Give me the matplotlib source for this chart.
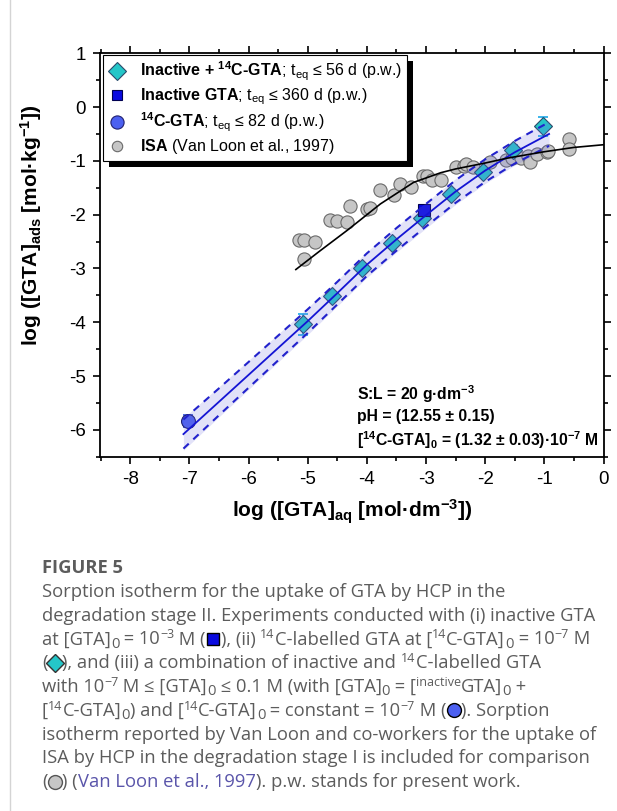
import numpy as np
import matplotlib
matplotlib.use("Agg")
import matplotlib.pyplot as plt
from matplotlib.lines import Line2D
from matplotlib.patches import Rectangle
from matplotlib.font_manager import FontProperties
from matplotlib.ticker import MultipleLocator

# --- data (log units) ---
# inactive + 14C-GTA (diamonds)
mix_x = [-5.08, -4.59, -4.09, -3.58, -3.07, -2.57, -2.04, -1.53, -1.02]
mix_y = [-4.04, -3.52, -2.99, -2.52, -2.07, -1.61, -1.20, -0.80, -0.36]
mix_err = [0.20, 0.05, 0.05, 0.05, 0.05, 0.05, 0.05, 0.09, 0.17]

# inactive GTA (square)
inact_x = [-3.04]
inact_y = [-1.92]

# 14C-GTA only (circle)
c14_x = [-7.03]
c14_y = [-5.84]
c14_err = [0.11]

# ISA, Van Loon et al. 1997 (grey circles)
isa_x = [-5.15, -5.07, -4.87, -5.07, -4.63, -4.51, -4.33, -4.29, -4.00, -3.94,
         -3.77, -3.54, -3.44, -3.26, -3.05, -2.98, -2.90, -2.75, -2.50, -2.36,
         -2.33, -2.20, -1.91, -1.65, -1.54, -1.40, -1.28, -1.24, -1.12, -0.96,
         -0.94, -0.58, -0.58]
isa_y = [-2.48, -2.47, -2.51, -2.82, -2.09, -2.11, -2.14, -1.83, -1.89, -1.87,
         -1.54, -1.63, -1.43, -1.49, -1.29, -1.28, -1.36, -1.36, -1.12, -1.09,
         -1.06, -1.11, -1.03, -0.99, -0.95, -0.95, -0.91, -1.03, -0.87, -0.84,
         -0.81, -0.60, -0.77]

# ISA model curve
isa_fit_x = [-5.2, -4.8, -4.33, -3.77, -3.21, -2.75, -2.5, -2.0, -1.63, -1.0, -0.5, 0.0]
isa_fit_y = [-3.02, -2.68, -2.29, -1.80, -1.40, -1.22, -1.15, -1.04, -0.95, -0.83, -0.75, -0.70]

# GTA model curve and its uncertainty band (half width)
fit_x = [-7.1, -6.5, -6.0, -5.5, -5.0, -4.5, -4.0, -3.5, -3.0, -2.5, -2.0, -1.5, -0.92]
fit_y = [-6.08, -5.48, -4.98, -4.48, -3.98, -3.46, -2.93, -2.46, -2.01, -1.57, -1.18, -0.84, -0.50]
fit_band = [0.27, 0.25, 0.24, 0.23, 0.22, 0.21, 0.21, 0.21, 0.21, 0.21, 0.21, 0.21, 0.22]

legend_labels = [
    r"$\mathbf{Inactive\ {+}\ ^{14}C‐GTA}$; t$_{\mathrm{eq}}$ ≤ 56 d (p.w.)",
    r"$\mathbf{Inactive\ GTA}$; t$_{\mathrm{eq}}$ ≤ 360 d (p.w.)",
    r"$\mathbf{^{14}C‐GTA}$; t$_{\mathrm{eq}}$ ≤ 82 d (p.w.)",
    r"$\mathbf{ISA}$ (Van Loon et al., 1997)",
]
cond_lines = [
    r"S:L = 20 g·dm$^{\mathbf{-3}}$",
    r"pH = (12.55 ± 0.15)",
    r"[$^{\mathbf{14}}$C-GTA]$_{\mathbf{0}}$ = (1.32 ± 0.03)·10$^{\mathbf{-7}}$ M",
]

CYAN = "#24c6c8"
BLUE_SQ = "#0a0ae0"
BLUE_CI = "#4c60f0"
GREY = "#c6c6c6"

plt.rcParams["font.family"] = ["Liberation Sans", "DejaVu Sans"]
plt.rcParams["mathtext.fontset"] = "custom"
plt.rcParams["mathtext.rm"] = "Liberation Sans"
plt.rcParams["mathtext.bf"] = "Liberation Sans:bold"
plt.rcParams["mathtext.it"] = "Liberation Sans:italic"
plt.rcParams["axes.unicode_minus"] = False

W, H = 617, 811
fig = plt.figure(figsize=(W / 100, H / 100), dpi=100)
ax = fig.add_axes([100 / W, 1 - 456.7 / H, 503.5 / W, 403.4 / H])

# data points
ax.errorbar(mix_x, mix_y, yerr=mix_err, fmt="none", ecolor="#1aa8e8", elinewidth=1.2,
            capsize=3.5, capthick=1.2, zorder=2)
ax.plot(mix_x, mix_y, ls="none", marker="D", ms=9.5, mfc=CYAN, mec="#2a4a6a", mew=0.8, zorder=3)
ax.plot(inact_x, inact_y, ls="none", marker="s", ms=8, mfc=BLUE_SQ, mec="#000050", mew=0.8, zorder=3)
ax.errorbar(c14_x, c14_y, yerr=c14_err, fmt="none", ecolor="#3050e0", elinewidth=1.2,
            capsize=3.5, capthick=1.2, zorder=2)
ax.plot(c14_x, c14_y, ls="none", marker="o", ms=10, mfc=BLUE_CI, mec="#202070", mew=0.8, zorder=3)
ax.plot(isa_x, isa_y, ls="none", marker="o", ms=9.5, mfc=GREY, mec="#6a6a6a", mew=0.8, zorder=2)

# model curves
ax.plot(isa_fit_x, isa_fit_y, color="black", lw=1.2, zorder=6)
fx = np.array(fit_x)
fy = np.array(fit_y)
fb = np.array(fit_band)
ax.fill_between(fx, fy - fb - 0.03, fy + fb + 0.03, color="#7070e0", alpha=0.2, lw=0, zorder=4)
ax.plot(fx, fy, color="#1414d4", lw=1.3, zorder=5)
ax.plot(fx, fy + fb, color="#2222cc", lw=1.5, ls=(0, (3.5, 3)), zorder=5)
ax.plot(fx, fy - fb, color="#2222cc", lw=1.5, ls=(0, (3.5, 3)), zorder=5)

# axes styling
ax.set_xlim(-8.51, 0)
ax.set_ylim(-6.5, 1)
ax.xaxis.set_major_locator(MultipleLocator(1))
ax.xaxis.set_minor_locator(MultipleLocator(0.5))
ax.yaxis.set_major_locator(MultipleLocator(1))
ax.yaxis.set_minor_locator(MultipleLocator(0.5))
ax.tick_params(which="both", direction="out", top=True, right=True, width=1.2,
               labelsize=13.5, pad=5)
ax.tick_params(which="major", length=5)
ax.tick_params(which="minor", length=3)
for sp in ax.spines.values():
    sp.set_linewidth(1.3)

ax.set_xlabel(r"log ([GTA]$_{\mathbf{aq}}$ [mol·dm$^{\mathbf{-3}}$])", fontsize=15,
              fontweight="bold", labelpad=7)
ax.set_ylabel(r"log ([GTA]$_{\mathbf{ads}}$ [mol·kg$^{\mathbf{-1}}$])", fontsize=15,
              fontweight="bold")
ax.yaxis.set_label_coords(-0.112, 0.574)

for i, s in enumerate(cond_lines):
    ax.text(-4.16, -5.33 - 0.43 * i, s, fontsize=11.3, fontweight="bold", va="center", zorder=7)

# legend with a hard black drop shadow
handles = [
    Line2D([], [], ls="none", marker="D", ms=9, mfc=CYAN, mec="#2a4a6a", mew=0.8),
    Line2D([], [], ls="none", marker="s", ms=7.5, mfc=BLUE_SQ, mec="#000050", mew=0.8),
    Line2D([], [], ls="none", marker="o", ms=9.5, mfc=BLUE_CI, mec="#202070", mew=0.8),
    Line2D([], [], ls="none", marker="o", ms=7.5, mfc=GREY, mec="#6a6a6a", mew=0.8),
]
leg = ax.legend(handles, legend_labels, loc="upper left", bbox_to_anchor=(0.006, 0.996),
                borderaxespad=0, fancybox=False, edgecolor="black", framealpha=1,
                fontsize=11.5, handlelength=1.2, handletextpad=0.8, labelspacing=0.22,
                borderpad=0.3)
leg.get_frame().set_linewidth(0.8)
leg.set_zorder(10)

fig.canvas.draw()
renderer = fig.canvas.get_renderer()
bb = leg.get_window_extent(renderer)
shadow = Rectangle(((bb.x0 + 6) / W, (bb.y0 - 6) / H), bb.width / W, bb.height / H,
                   transform=fig.transFigure, facecolor="black", edgecolor="none", zorder=9)
ax.add_patch(shadow)
shadow.set_clip_on(False)

# page border line on the left
fig.add_artist(Line2D([10 / W, 10 / W], [0, 1], color="#d4d4d4", lw=1.0))

# --- caption ---
cap_family = ["Open Sans", "DejaVu Sans"]
cap_color = "#5c5c5c"
link_color = "#5a55aa"
cap_lines = [
    [("b", "FIGURE 5")],
    [("n", "Sorption isotherm for the uptake of GTA by HCP in the")],
    [("n", "degradation stage II. Experiments conducted with (i) inactive GTA")],
    [("n", "at [GTA]"), ("d", "0"), ("n", " = 10"), ("u", "−3"), ("n", " M ("), ("m", "sq"),
     ("n", "), (ii) "), ("u", "14"), ("n", "C-labelled GTA at ["), ("u", "14"), ("n", "C-GTA]"),
     ("d", "0"), ("n", " = 10"), ("u", "−7"), ("n", " M")],
    [("n", "("), ("m", "di"), ("n", "), and (iii) a combination of inactive and "), ("u", "14"),
     ("n", "C-labelled GTA")],
    [("n", "with 10"), ("u", "−7"), ("n", " M ≤ [GTA]"), ("d", "0"), ("n", " ≤ 0.1 M (with [GTA]"),
     ("d", "0"), ("n", " = ["), ("u", "inactive"), ("n", "GTA]"), ("d", "0"), ("n", " +")],
    [("n", "["), ("u", "14"), ("n", "C-GTA]"), ("d", "0"), ("n", ") and ["), ("u", "14"),
     ("n", "C-GTA]"), ("d", "0"), ("n", " = constant = 10"), ("u", "−7"), ("n", " M ("),
     ("m", "ci"), ("n", "). Sorption")],
    [("n", "isotherm reported by Van Loon and co-workers for the uptake of")],
    [("n", "ISA by HCP in the degradation stage I is included for comparison")],
    [("n", "("), ("m", "gr"), ("n", ") ("), ("l", "Van Loon et al., 1997"),
     ("n", "). p.w. stands for present work.")],
]
cap_marks = {
    "sq": ("s", BLUE_SQ, "black", 9),
    "di": ("D", CYAN, "#333333", 9),
    "ci": ("o", BLUE_CI, "black", 10),
    "gr": ("o", GREY, "#555555", 10),
}


def text_width(s, fp):
    w1 = renderer.get_text_width_height_descent("x" + s + "x", fp, ismath=False)[0]
    w0 = renderer.get_text_width_height_descent("xx", fp, ismath=False)[0]
    return w1 - w0


# size the caption so the second line fills the column
probe = FontProperties(family=cap_family, size=10)
cap_size = 10 * 556 / text_width(cap_lines[2][0][1], probe)

x0 = 42
baselines = [573] + [597 + 23.75 * i for i in range(9)]
for segs, yb in zip(cap_lines, baselines):
    x = x0
    for kind, s in segs:
        if kind == "m":
            mk, fc, ec, ms = cap_marks[s]
            fig.add_artist(Line2D([(x + 7.5) / W], [1 - (yb - 5.5) / H], ls="none", marker=mk,
                                  ms=ms, mfc=fc, mec=ec, mew=1.0, transform=fig.transFigure))
            x += 15
            continue
        size, dy, color, weight = cap_size, 0, cap_color, "normal"
        if kind == "u":
            size, dy = cap_size * 0.68, 6
        elif kind == "d":
            size, dy = cap_size * 0.8, -3
        elif kind == "l":
            color = link_color
        elif kind == "b":
            weight = "bold"
        fp = FontProperties(family=cap_family, size=size, weight=weight)
        fig.text(x / W, 1 - (yb - dy) / H, s, fontproperties=fp, color=color,
                 ha="left", va="baseline")
        x += text_width(s, fp)

fig.savefig("out.png", dpi=100)
